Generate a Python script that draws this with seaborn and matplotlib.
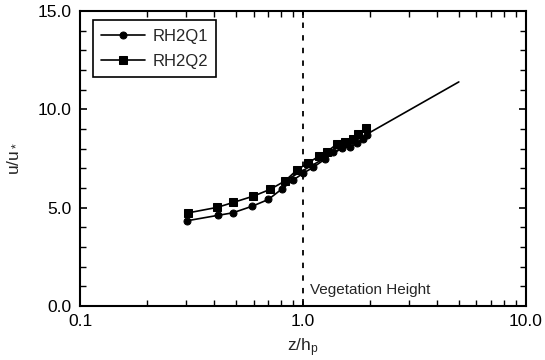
import matplotlib
matplotlib.use("Agg")
import matplotlib.pyplot as plt
import matplotlib.ticker as mticker
import pandas as pd
import seaborn as sns

# profile data
q1_z = [0.303, 0.414, 0.484, 0.593, 0.699, 0.803, 0.905, 1.0, 1.11, 1.25, 1.37, 1.49, 1.62, 1.74, 1.86, 1.93]
q1_u = [4.34, 4.61, 4.74, 5.08, 5.42, 5.95, 6.41, 6.75, 7.05, 7.46, 7.84, 8.02, 8.10, 8.27, 8.52, 8.69]
q2_z = [0.306, 0.413, 0.487, 0.599, 0.711, 0.830, 0.937, 1.056, 1.18, 1.28, 1.42, 1.54, 1.68, 1.77, 1.92]
q2_u = [4.74, 5.02, 5.27, 5.59, 5.93, 6.36, 6.91, 7.29, 7.62, 7.85, 8.24, 8.35, 8.52, 8.74, 9.08]

# log-law fit line
fit_z = [0.85, 5.0]
fit_u = [6.44, 11.4]

veg_height = 1.0

sns.set_theme(style="ticks")
plt.rcParams['font.family'] = ['Liberation Sans', 'DejaVu Sans']
plt.rcParams['mathtext.fontset'] = 'custom'
plt.rcParams['mathtext.rm'] = 'Liberation Sans'
plt.rcParams['mathtext.it'] = 'Liberation Sans'

df1 = pd.DataFrame({'z': q1_z, 'u': q1_u})
df2 = pd.DataFrame({'z': q2_z, 'u': q2_u})
dfit = pd.DataFrame({'z': fit_z, 'u': fit_u})

fig = plt.figure(figsize=(5.45, 3.6), dpi=100)
ax = fig.add_axes([0.147, 0.15, 0.818, 0.819])

sns.lineplot(data=dfit, x='z', y='u', ax=ax, color='black', lw=1.2, label='_nolegend_')
sns.lineplot(data=df1, x='z', y='u', ax=ax, color='black', lw=1.2, marker='o', markersize=5,
             markeredgecolor='black', label='RH2Q1')
sns.lineplot(data=df2, x='z', y='u', ax=ax, color='black', lw=1.2, marker='s', markersize=5.5,
             markeredgecolor='black', label='RH2Q2')

ax.axvline(veg_height, color='black', ls=(0, (3, 4)), lw=1.3)
ax.text(1.075, 0.8, 'Vegetation Height', fontsize=11, va='center', ha='left')

ax.set_xscale('log')
ax.set_xlim(0.1, 10)
ax.set_ylim(0, 15)
ax.xaxis.set_major_locator(mticker.FixedLocator([0.1, 1.0, 10.0]))
ax.xaxis.set_major_formatter(mticker.FixedFormatter(['0.1', '1.0', '10.0']))
ax.xaxis.set_minor_locator(mticker.LogLocator(base=10, subs=range(2, 10)))
ax.xaxis.set_minor_formatter(mticker.NullFormatter())
ax.yaxis.set_major_locator(mticker.MultipleLocator(5))
ax.yaxis.set_minor_locator(mticker.MultipleLocator(1))
ax.yaxis.set_major_formatter(mticker.FormatStrFormatter('%.1f'))

for s in ax.spines.values():
    s.set_visible(True)
    s.set_linewidth(1.5)
    s.set_color('black')
ax.tick_params(which='both', direction='in', top=True, right=True, colors='black', labelsize=12.5)
ax.tick_params(which='major', length=5, width=1.2, pad=6)
ax.tick_params(which='minor', length=4, width=1.0)

ax.set_xlabel(r'z/h$_\mathrm{p}$', fontsize=12.5, labelpad=5)
ax.set_ylabel(r'u/u$_*$', fontsize=12.5, labelpad=13)

leg = ax.legend(loc='upper left', bbox_to_anchor=(0.029, 0.969), borderaxespad=0, fontsize=12,
                frameon=True, fancybox=False, handlelength=2.6, handletextpad=0.45,
                borderpad=0.5, labelspacing=0.6)
leg.get_frame().set_edgecolor('black')
leg.get_frame().set_linewidth(1.2)
leg.get_frame().set_alpha(1)

fig.savefig('out.png', dpi=100)
